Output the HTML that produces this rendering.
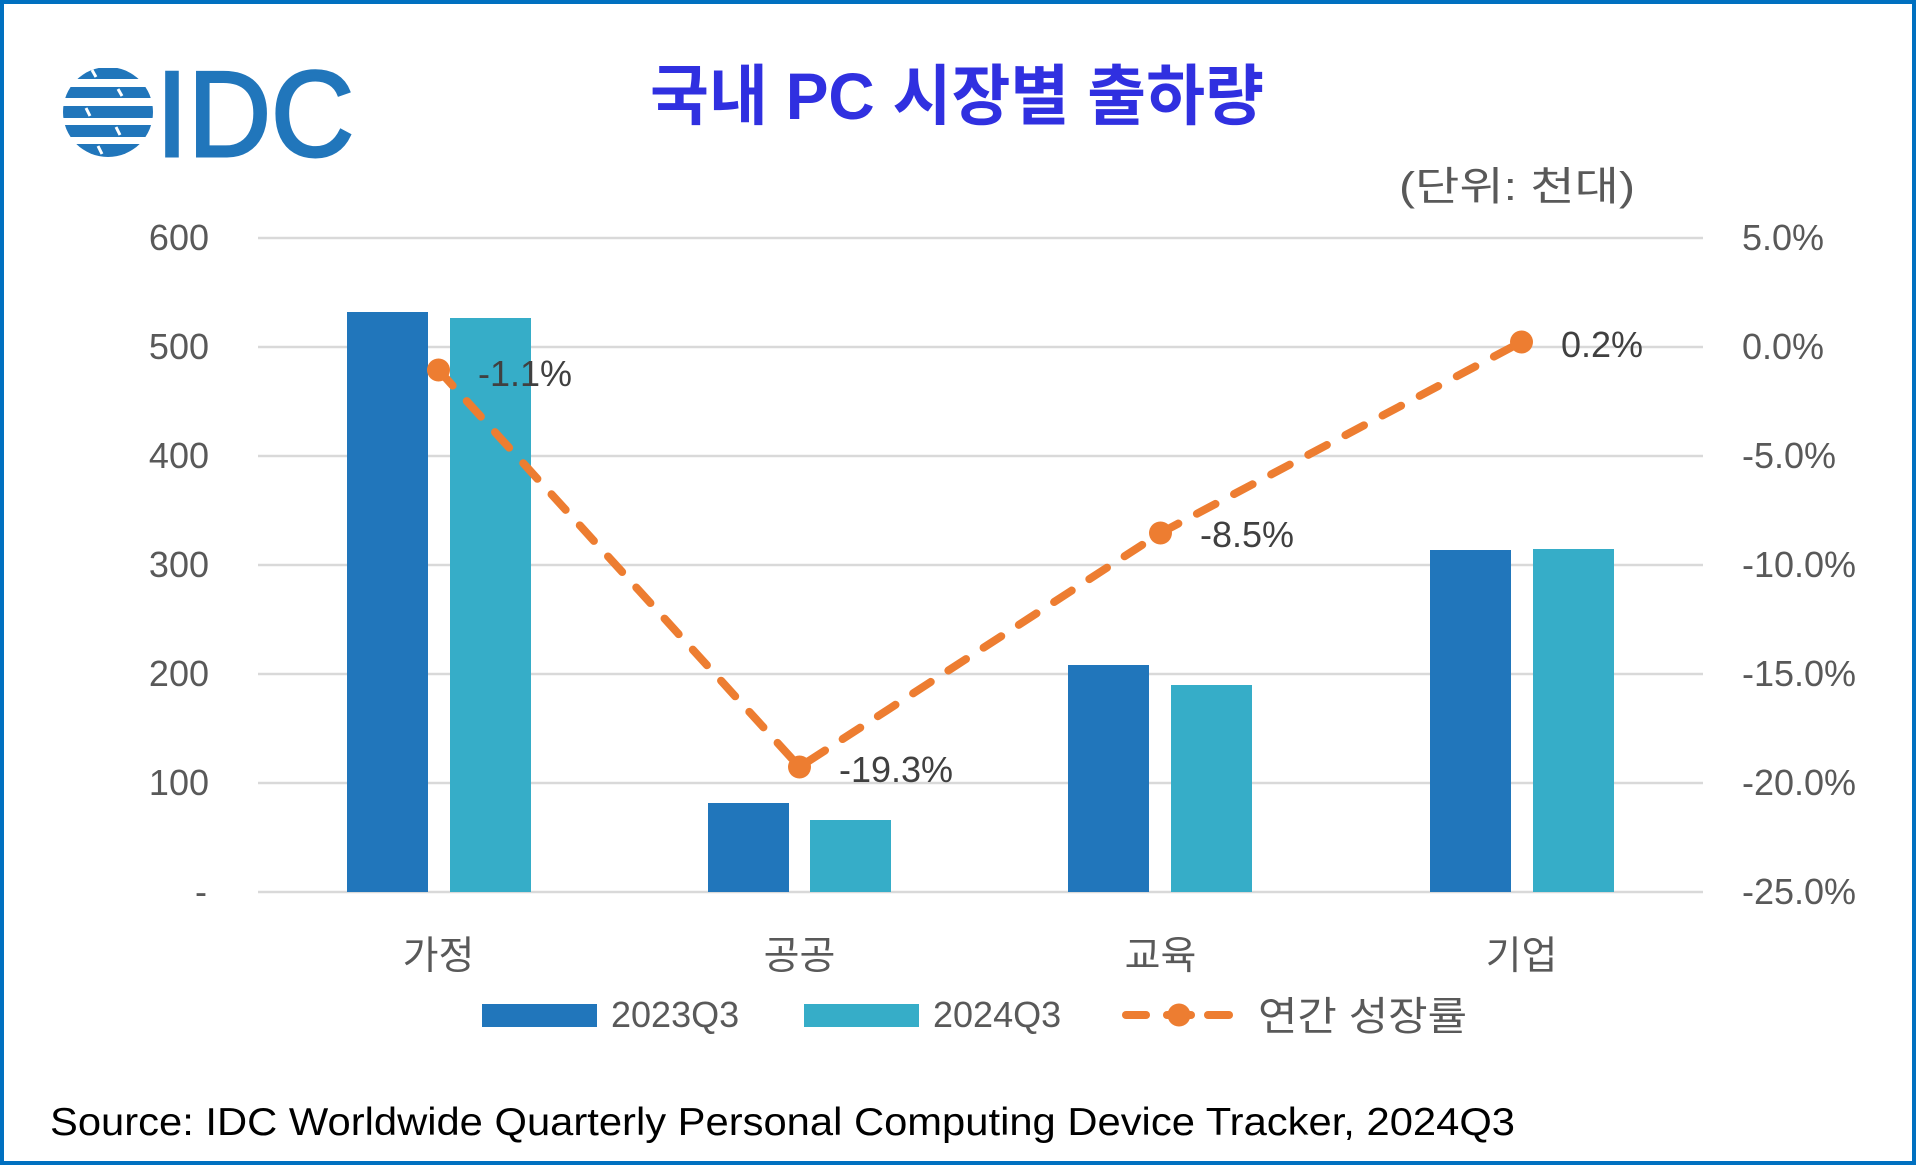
<!DOCTYPE html>
<html>
<head>
<meta charset="utf-8">
<style>
  html, body { margin: 0; padding: 0; background: #ffffff; }
  body { width: 1917px; height: 1166px; overflow: hidden; }
  svg { display: block; }
  .ax { font-family: "Liberation Sans", "Noto Sans CJK KR", sans-serif; font-size: 36px; fill: #595959; }
  .kr { font-family: "Liberation Sans", "Noto Sans CJK KR", sans-serif; fill: #595959; }
  .dl { font-family: "Liberation Sans", "Noto Sans CJK KR", sans-serif; font-size: 36px; fill: #404040; }
</style>
</head>
<body>
<svg width="1917" height="1166" viewBox="0 0 1917 1166" xmlns="http://www.w3.org/2000/svg">
  <!-- background and border -->
  <rect x="0" y="0" width="1917" height="1166" fill="#ffffff"/>
  <rect x="2" y="2" width="1912" height="1161" fill="none" stroke="#0070C0" stroke-width="4"/>

  <!-- IDC logo: striped globe -->
  <defs>
    <clipPath id="globe"><circle cx="108" cy="112" r="45"/></clipPath>
  </defs>
  <g clip-path="url(#globe)" fill="#2176BB">
    <rect x="60" y="68" width="100" height="11"/>
    <rect x="60" y="87" width="100" height="11"/>
    <rect x="60" y="106" width="100" height="12"/>
    <rect x="60" y="125" width="100" height="12"/>
    <rect x="60" y="144" width="100" height="13"/>
  </g>
  <g stroke="#ffffff" stroke-width="3">
    <line x1="92" y1="70" x2="96" y2="77"/>
    <line x1="118" y1="89" x2="122" y2="96"/>
    <line x1="86" y1="108" x2="90" y2="116"/>
    <line x1="116" y1="127" x2="120" y2="135"/>
    <line x1="98" y1="146" x2="102" y2="154"/>
  </g>
  <text x="156" y="156" font-family="Liberation Sans, sans-serif" font-size="122" fill="#2176BB" stroke="#2176BB" stroke-width="3" textLength="198" lengthAdjust="spacingAndGlyphs">IDC</text>

  <!-- Title -->
  <text x="650" y="119" font-family="Liberation Sans, 'Noto Sans CJK KR', sans-serif" font-size="66" font-weight="bold" fill="#3030E0" textLength="614" lengthAdjust="spacingAndGlyphs">국내 PC 시장별 출하량</text>

  <!-- unit -->
  <text x="1399" y="200" class="kr" font-size="40" textLength="236" lengthAdjust="spacingAndGlyphs">(단위: 천대)</text>

  <!-- gridlines -->
  <g stroke="#D9D9D9" stroke-width="2.5">
    <line x1="258" y1="238" x2="1703" y2="238"/>
    <line x1="258" y1="347" x2="1703" y2="347"/>
    <line x1="258" y1="456" x2="1703" y2="456"/>
    <line x1="258" y1="565" x2="1703" y2="565"/>
    <line x1="258" y1="674" x2="1703" y2="674"/>
    <line x1="258" y1="783" x2="1703" y2="783"/>
    <line x1="258" y1="892" x2="1703" y2="892"/>
  </g>

  <!-- left axis labels -->
  <g class="ax" text-anchor="end">
    <text x="209" y="250">600</text>
    <text x="209" y="359">500</text>
    <text x="209" y="468">400</text>
    <text x="209" y="577">300</text>
    <text x="209" y="686">200</text>
    <text x="209" y="795">100</text>
    <text x="207" y="904">-</text>
  </g>

  <!-- right axis labels -->
  <g class="ax">
    <text x="1742" y="250">5.0%</text>
    <text x="1742" y="359">0.0%</text>
    <text x="1742" y="468">-5.0%</text>
    <text x="1742" y="577">-10.0%</text>
    <text x="1742" y="686">-15.0%</text>
    <text x="1742" y="795">-20.0%</text>
    <text x="1742" y="904">-25.0%</text>
  </g>

  <!-- bars 2023Q3 -->
  <g fill="#2176BB">
    <rect x="347" y="312" width="81" height="580"/>
    <rect x="708" y="803" width="81" height="89"/>
    <rect x="1068" y="665" width="81" height="227"/>
    <rect x="1430" y="550" width="81" height="342"/>
  </g>
  <!-- bars 2024Q3 -->
  <g fill="#36ADC8">
    <rect x="450" y="318" width="81" height="574"/>
    <rect x="810" y="820" width="81" height="72"/>
    <rect x="1171" y="685" width="81" height="207"/>
    <rect x="1533" y="549" width="81" height="343"/>
  </g>

  <!-- growth line -->
  <polyline points="438.5,370 799.5,767 1160.5,533 1521.5,342" fill="none" stroke="#ED7D31" stroke-width="8" stroke-linecap="round" stroke-linejoin="round" stroke-dasharray="21 21"/>
  <g fill="#ED7D31">
    <circle cx="438.5" cy="370" r="11.5"/>
    <circle cx="799.5" cy="767" r="11.5"/>
    <circle cx="1160.5" cy="533" r="11.5"/>
    <circle cx="1521.5" cy="342" r="11.5"/>
  </g>

  <!-- data labels -->
  <g class="dl">
    <text x="478" y="386">-1.1%</text>
    <text x="839" y="782">-19.3%</text>
    <text x="1200" y="547">-8.5%</text>
    <text x="1561" y="357">0.2%</text>
  </g>

  <!-- category labels -->
  <g class="kr" font-size="39" text-anchor="middle">
    <text x="438.5" y="969">가정</text>
    <text x="799.5" y="969">공공</text>
    <text x="1160.5" y="969">교육</text>
    <text x="1521.5" y="969">기업</text>
  </g>

  <!-- legend -->
  <rect x="482" y="1004" width="115" height="23" fill="#2176BB"/>
  <text x="611" y="1027" class="ax">2023Q3</text>
  <rect x="804" y="1004" width="115" height="23" fill="#36ADC8"/>
  <text x="933" y="1027" class="ax">2024Q3</text>
  <g stroke="#ED7D31" stroke-width="8" stroke-linecap="round">
    <line x1="1126" y1="1015" x2="1146" y2="1015"/>
    <line x1="1167" y1="1015" x2="1191" y2="1015"/>
    <line x1="1208" y1="1015" x2="1229" y2="1015"/>
  </g>
  <circle cx="1179" cy="1015" r="11.5" fill="#ED7D31"/>
  <text x="1258" y="1030" class="kr" font-size="40" textLength="209" lengthAdjust="spacingAndGlyphs">연간 성장률</text>

  <!-- source -->
  <text x="50" y="1135" font-family="Liberation Sans, sans-serif" font-size="39" fill="#000000" textLength="1465" lengthAdjust="spacingAndGlyphs">Source: IDC Worldwide Quarterly Personal Computing Device Tracker, 2024Q3</text>
</svg>
</body>
</html>
